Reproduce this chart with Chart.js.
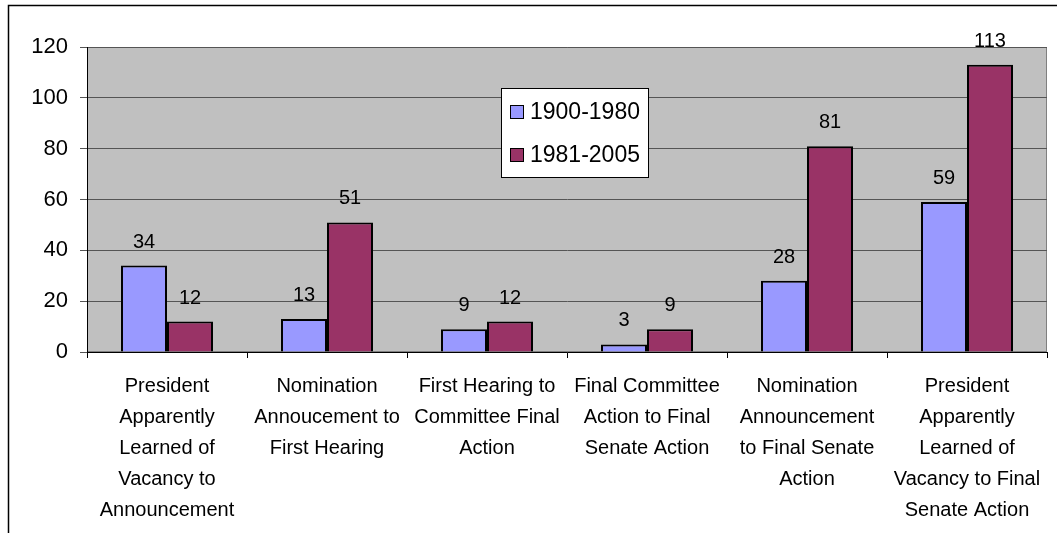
<!DOCTYPE html>
<html><head><meta charset="utf-8">
<script src="https://cdn.jsdelivr.net/npm/chart.js@4"></script>
<style>html,body{margin:0;padding:0;background:#fff;}#wrap{width:1057px;height:533px;position:relative;}</style>
</head><body><div id="wrap"><canvas id="c" width="1057" height="533"></canvas></div>
<script>
const categories = [
  ["President","Apparently","Learned of","Vacancy to","Announcement"],
  ["Nomination","Annoucement to","First Hearing"],
  ["First Hearing to","Committee Final","Action"],
  ["Final Committee","Action to Final","Senate Action"],
  ["Nomination","Announcement","to Final Senate","Action"],
  ["President","Apparently","Learned of","Vacancy to Final","Senate Action"]
];
const seriesNames = ["1900-1980","1981-2005"];
const values1900 = [34,13,9,3,28,59];
const values1981 = [12,51,12,9,81,113];
const yTicks = [0,20,40,60,80,100,120];
const colors = ["#9999FF","#993366"];
const FONT = "'Liberation Sans', Arial, sans-serif";

const framePlugin = {
  id:'frame',
  beforeDraw(chart){
    const ctx=chart.ctx, a=chart.chartArea;
    ctx.save();
    ctx.fillStyle='#fff'; ctx.fillRect(0,0,chart.width,chart.height);
    ctx.strokeStyle='#000'; ctx.lineWidth=1.5;
    ctx.beginPath(); ctx.moveTo(8.5,chart.height+2); ctx.lineTo(8.5,5.5); ctx.lineTo(chart.width+2,5.5); ctx.stroke();
    ctx.fillStyle='#C0C0C0'; ctx.fillRect(a.left,a.top,a.right-a.left,a.bottom-a.top);
    ctx.strokeStyle='#808080'; ctx.lineWidth=1;
    ctx.strokeRect(a.left+0.5,a.top+0.5,a.right-a.left-1,a.bottom-a.top-1);
    ctx.restore();
  },
  afterDatasetsDraw(chart){
    const ctx=chart.ctx;
    ctx.save();
    ctx.font='20px '+FONT; ctx.fillStyle='#000'; ctx.textAlign='center'; ctx.textBaseline='alphabetic';
    chart.data.datasets.forEach((ds,i)=>{
      chart.getDatasetMeta(i).data.forEach((bar,j)=>{
        ctx.fillText(String(ds.data[j]), bar.x, bar.y-18);
      });
    });
    // legend
    const lx=501, ly=88, lw=147, lh=89;
    ctx.fillStyle='#fff'; ctx.fillRect(lx,ly,lw,lh);
    ctx.strokeStyle='#000'; ctx.lineWidth=1; ctx.strokeRect(lx+0.5,ly+0.5,lw,lh);
    ctx.font='23px '+FONT; ctx.textAlign='left'; ctx.textBaseline='middle';
    seriesNames.forEach((n,i)=>{
      const cy = ly+24+i*43;
      ctx.fillStyle=colors[i]; ctx.fillRect(lx+9,cy-7,14,14);
      ctx.strokeStyle='#000'; ctx.strokeRect(lx+9.5,cy-6.5,13,13);
      ctx.fillStyle='#000'; ctx.fillText(n,lx+29,cy+1);
    });
    ctx.restore();
  }
};

new Chart(document.getElementById('c'),{
  type:'bar',
  data:{
    labels:categories,
    datasets:[
      {label:seriesNames[0],data:values1900,backgroundColor:colors[0],borderColor:'#000',borderWidth:2,categoryPercentage:0.575,barPercentage:1},
      {label:seriesNames[1],data:values1981,backgroundColor:colors[1],borderColor:'#000',borderWidth:2,categoryPercentage:0.575,barPercentage:1}
    ]
  },
  options:{
    responsive:false,animation:false,
    layout:{padding:{top:47,right:10,left:0,bottom:0}},
    plugins:{legend:{display:false},tooltip:{enabled:false}},
    scales:{
      x:{
        grid:{display:true,drawOnChartArea:false,offset:true,color:'#000',tickLength:6},
        border:{color:'#000'},
        ticks:{font:{family:FONT,size:20,lineHeight:1.55},color:'#000',maxRotation:0,autoSkip:false,padding:13},
        afterFit(s){s.height=181;}
      },
      y:{
        min:0,max:120,
        afterBuildTicks(s){s.ticks=yTicks.map(v=>({value:v}));},
        grid:{color:'#555',tickLength:7,drawTicks:true},
        border:{color:'#000'},
        ticks:{font:{family:FONT,size:22},color:'#000',padding:12},
        afterFit(s){s.width=87;}
      }
    }
  },
  plugins:[framePlugin]
});
</script></body></html>
